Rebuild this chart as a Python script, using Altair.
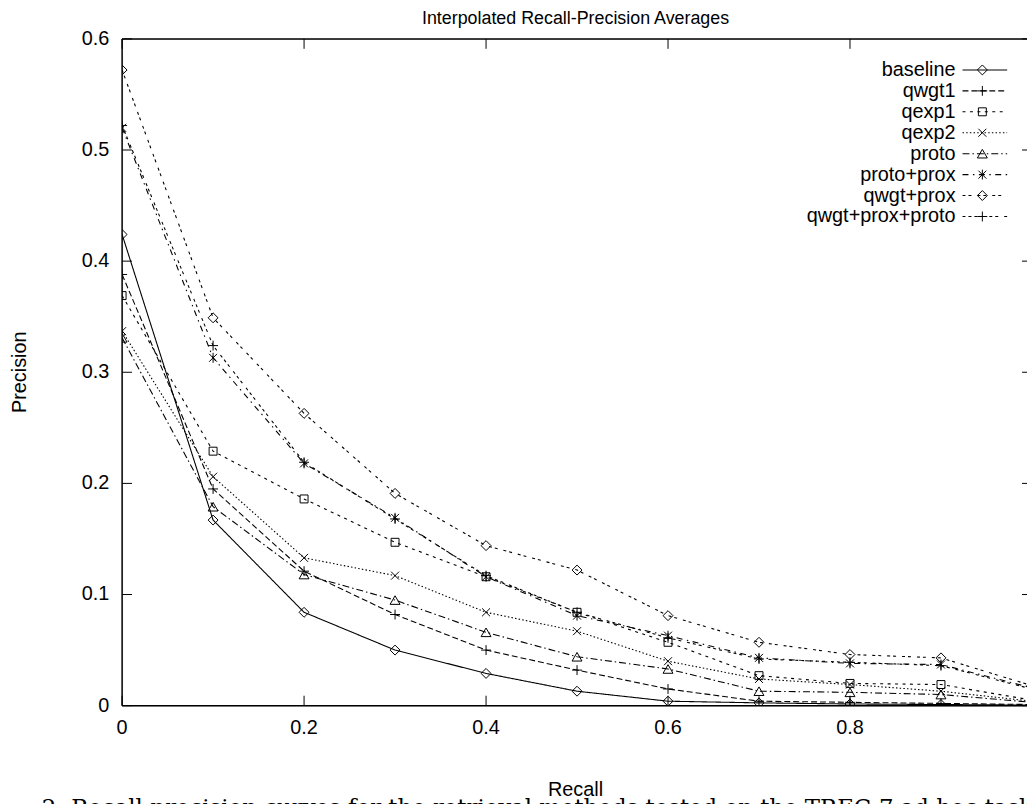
import altair as alt
import pandas as pd

# ---------------- data ----------------
recall = [0.0, 0.1, 0.2, 0.3, 0.4, 0.5, 0.6, 0.7, 0.8, 0.9, 1.0]

series_names = ["baseline", "qwgt1", "qexp1", "qexp2", "proto",
                "proto+prox", "qwgt+prox", "qwgt+prox+proto"]

baseline = [0.424, 0.167, 0.084, 0.050, 0.029, 0.013, 0.004, 0.0025, 0.0015, 0.001, 0.0005]
qwgt1 = [0.388, 0.195, 0.121, 0.082, 0.050, 0.032, 0.015, 0.004, 0.003, 0.002, 0.001]
qexp1 = [0.369, 0.229, 0.186, 0.147, 0.116, 0.084, 0.057, 0.027, 0.020, 0.019, 0.005]
qexp2 = [0.337, 0.206, 0.133, 0.117, 0.084, 0.067, 0.040, 0.024, 0.019, 0.013, 0.004]
proto = [0.331, 0.179, 0.118, 0.095, 0.066, 0.044, 0.033, 0.013, 0.012, 0.010, 0.003]
proto_prox = [0.520, 0.313, 0.218, 0.169, 0.116, 0.081, 0.063, 0.043, 0.038, 0.037, 0.016]
qwgt_prox = [0.572, 0.349, 0.263, 0.191, 0.144, 0.122, 0.081, 0.057, 0.046, 0.043, 0.018]
qwgt_prox_proto = [0.522, 0.324, 0.219, 0.168, 0.117, 0.084, 0.061, 0.042, 0.039, 0.036, 0.015]

series_values = [baseline, qwgt1, qexp1, qexp2, proto, proto_prox, qwgt_prox, qwgt_prox_proto]

x_ticks = [0.0, 0.2, 0.4, 0.6, 0.8, 1.0]
x_labels = ["0", "0.2", "0.4", "0.6", "0.8", "1"]
y_ticks = [0.0, 0.1, 0.2, 0.3, 0.4, 0.5, 0.6]
y_labels = ["0", "0.1", "0.2", "0.3", "0.4", "0.5", "0.6"]

chart_title = "Interpolated Recall-Precision Averages"
x_title = "Recall"
y_title = "Precision"
caption = "2: Recall-precision curves for the retrieval methods tested on the TREC-7 ad hoc task"

# ---------------- styles ----------------
PLUS = "M-1,0L1,0M0,-1L0,1"
CROSS = "M-0.8,-0.8L0.8,0.8M-0.8,0.8L0.8,-0.8"
STAR = "M0,-1L0,1M-0.8,-0.8L0.8,0.8M-0.8,0.8L0.8,-0.8"
SQUARE = "M-0.8,-0.8L0.8,-0.8L0.8,0.8L-0.8,0.8Z"
shapes = ["diamond", PLUS, SQUARE, CROSS, "triangle-up", STAR, "diamond", PLUS]
dashes = [[1, 0], [6, 3], [3, 4.5], [1.5, 2.2], [7, 3, 1.5, 3],
          [6, 4.5, 1.5, 4.5], [3, 3, 3, 6], [3, 3, 3, 3, 3, 6]]

FONT = "Liberation Sans"
W_VISIBLE = 912   # visible part of the plot (right edge is cut by the window)
X_RANGE = 917     # full plot width up to recall = 1.0
H = 672
TICK = 10
MSIZE = 100

rows = []
for name, vals in zip(series_names, series_values):
    for r, p in zip(recall, vals):
        rows.append({"series": name, "recall": r, "precision": p})
df = pd.DataFrame(rows)

x_scale = alt.Scale(domain=[0, 1], range=[0, X_RANGE], nice=False, zero=False)
y_scale = alt.Scale(domain=[0, 0.6], nice=False)
dash_scale = alt.Scale(domain=series_names, range=dashes)
shape_scale = alt.Scale(domain=series_names, range=shapes)

x_enc = alt.X("recall:Q", scale=x_scale, axis=None)
y_enc = alt.Y("precision:Q", scale=y_scale, axis=None)

lines = alt.Chart(df).mark_line(clip=True, color="black", strokeWidth=1.1).encode(
    x=x_enc, y=y_enc,
    strokeDash=alt.StrokeDash("series:N", scale=dash_scale, legend=None),
    detail="series:N",
)

points = alt.Chart(df).mark_point(clip=True, filled=False, color="black",
                                  strokeWidth=1, size=MSIZE, opacity=1).encode(
    x=x_enc, y=y_enc,
    shape=alt.Shape("series:N", scale=shape_scale, legend=None),
)

yt = pd.DataFrame({"v": y_ticks, "lab": y_labels})
xt = pd.DataFrame({"v": x_ticks, "lab": x_labels})
one = pd.DataFrame({"v": [0]})

ty = alt.Y("v:Q", scale=y_scale, axis=None)
tx = alt.X("v:Q", scale=x_scale, axis=None)

left_ticks = alt.Chart(yt).mark_rule(color="black", strokeWidth=1).encode(
    y=ty, x=alt.value(0), x2=alt.value(TICK))
right_ticks = alt.Chart(yt).mark_rule(color="black", strokeWidth=1).encode(
    y=ty, x=alt.value(X_RANGE), x2=alt.value(X_RANGE - TICK))
bottom_ticks = alt.Chart(xt).mark_rule(color="black", strokeWidth=1).encode(
    x=tx, y=alt.value(H), y2=alt.value(H - TICK))
top_ticks = alt.Chart(xt).mark_rule(color="black", strokeWidth=1).encode(
    x=tx, y=alt.value(0), y2=alt.value(TICK))

border_top = alt.Chart(one).mark_rule(color="black", strokeWidth=1.5).encode(
    x=alt.value(0), x2=alt.value(X_RANGE), y=alt.value(0))
border_bottom = alt.Chart(one).mark_rule(color="black", strokeWidth=1.5).encode(
    x=alt.value(0), x2=alt.value(X_RANGE), y=alt.value(H))
border_left = alt.Chart(one).mark_rule(color="black", strokeWidth=1.5).encode(
    x=alt.value(0), y=alt.value(0), y2=alt.value(H))

y_tick_labels = alt.Chart(yt).mark_text(align="right", baseline="middle", font=FONT,
                                        fontSize=20, color="black").encode(
    y=ty, x=alt.value(-13), text="lab:N")
x_tick_labels = alt.Chart(xt).mark_text(align="center", baseline="top", font=FONT,
                                        fontSize=20, color="black").encode(
    x=tx, y=alt.value(H + 13), text="lab:N")

def label(txt, x, y, size=20, angle=0, font=FONT, align="center"):
    return alt.Chart(pd.DataFrame({"t": [txt]})).mark_text(
        align=align, baseline="alphabetic", font=font, fontSize=size,
        color="black", angle=angle
    ).encode(text="t:N", x=alt.value(x), y=alt.value(y))

title_layer = label(chart_title, 457, -15.5, size=18)
x_title_layer = label(x_title, 457, 763)
y_title_layer = label(y_title, -97, H / 2, angle=270)
caption_layer = label(caption, -81, 782, size=23, font="DejaVu Serif", align="left")

main = alt.layer(lines, points, left_ticks, right_ticks, bottom_ticks, top_ticks,
                 border_top, border_bottom, border_left,
                 y_tick_labels, x_tick_labels,
                 title_layer, x_title_layer, y_title_layer, caption_layer)

# ---------------- key (gnuplot style: label left, sample right) ----------------
leg = pd.DataFrame({"series": series_names})
leg_y = alt.Y("series:N", axis=None,
              scale=alt.Scale(type="point", domain=series_names, range=[31.3, 179], padding=0))

leg_text = alt.Chart(leg).mark_text(align="right", baseline="middle", font=FONT,
                                    fontSize=20, color="black").encode(
    text="series:N", x=alt.value(840), y=leg_y)
leg_rule = alt.Chart(leg).mark_rule(color="black", strokeWidth=1.1).encode(
    x=alt.value(847), x2=alt.value(892), y=leg_y,
    strokeDash=alt.StrokeDash("series:N", scale=dash_scale, legend=None))
leg_pts = alt.Chart(leg).mark_point(filled=False, color="black", strokeWidth=1,
                                    size=MSIZE, opacity=1).encode(
    x=alt.value(867), y=leg_y,
    shape=alt.Shape("series:N", scale=shape_scale, legend=None))

legend = alt.layer(leg_text, leg_rule, leg_pts)

chart = alt.layer(main, legend).resolve_scale(y="independent").properties(
    width=W_VISIBLE, height=H,
    autosize=alt.AutoSizeParams(type="none"),
    padding={"left": 115, "top": 28, "right": 0, "bottom": 96},
).configure_view(stroke=None).configure(background="white")

chart.save("out.html", embed_options={"renderer": "svg", "actions": False})
